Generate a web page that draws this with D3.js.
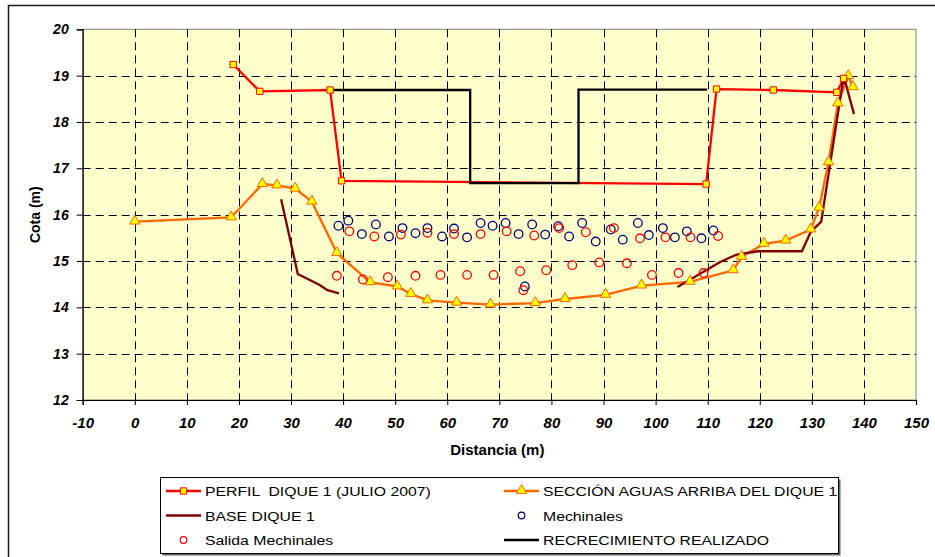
<!DOCTYPE html>
<html>
<head>
<meta charset="utf-8">
<script src="https://cdn.jsdelivr.net/npm/d3@7"></script>
<style>
  html, body { margin: 0; padding: 0; background: #fff; }
  svg { display: block; font-family: "Liberation Sans", Arial, sans-serif; }
</style>
</head>
<body>
<svg id="chart" width="935" height="557"></svg>
<script>
// Perfil del dique 1 (julio 2007)
const perfilX = [18.9, 24.0, 37.5, 39.7, 109.7, 111.7, 122.6, 134.8, 136.1];
const perfilY = [19.24, 18.66, 18.69, 16.73, 16.66, 18.71, 18.69, 18.64, 18.94];

// Sección aguas arriba del dique 1
const seccionX = [0, 18.5, 24.5, 27.3, 30.8, 34.0, 38.8, 45.2, 50.4, 53.0, 56.2, 61.8, 68.3, 76.9, 82.6, 90.4, 97.3, 106.6, 114.9, 116.5, 120.8, 125.0, 129.8, 131.4, 133.2, 135.0, 137.0, 137.9];
const seccionY = [15.85, 15.94, 16.66, 16.63, 16.56, 16.28, 15.17, 14.54, 14.45, 14.29, 14.15, 14.10, 14.06, 14.09, 14.18, 14.27, 14.47, 14.55, 14.80, 15.09, 15.37, 15.44, 15.68, 16.15, 17.13, 18.40, 18.99, 18.75];

// Base del dique 1 (dos tramos)
const baseIzqX = [28.1, 31.3, 35.5, 37.0, 39.2];
const baseIzqY = [16.33, 14.72, 14.48, 14.37, 14.30];
const baseDerX = [104.2, 109.2, 112.4, 115.6, 119.7, 128.1, 129.8, 131.8, 135.9, 136.4, 138.1];
const baseDerY = [14.44, 14.77, 14.98, 15.14, 15.21, 15.21, 15.63, 15.85, 18.83, 18.87, 18.17];

// Mechinales
const mechX = [39.1, 41.0, 43.6, 46.3, 48.8, 51.4, 53.9, 56.2, 59.0, 61.3, 63.8, 66.4, 68.7, 71.2, 73.7, 76.3, 78.8, 81.3, 83.4, 85.9, 88.5, 91.4, 93.7, 96.6, 98.7, 101.4, 103.7, 106.0, 108.8, 111.1, 74.9];
const mechY = [15.76, 15.87, 15.58, 15.79, 15.53, 15.71, 15.60, 15.71, 15.53, 15.70, 15.51, 15.82, 15.76, 15.82, 15.58, 15.79, 15.57, 15.75, 15.53, 15.82, 15.42, 15.68, 15.46, 15.82, 15.56, 15.71, 15.51, 15.64, 15.49, 15.66, 14.45];

// Salida de mechinales
const salidaX = [41.2, 46.0, 51.1, 56.2, 61.3, 66.4, 71.4, 76.7, 81.5, 86.6, 92.0, 97.0, 101.9, 106.7, 112.0, 38.8, 43.8, 48.6, 53.9, 58.7, 63.8, 68.9, 74.0, 79.0, 84.0, 89.2, 94.5, 99.3, 104.4, 109.2, 74.6];
const salidaY = [15.64, 15.53, 15.57, 15.61, 15.58, 15.58, 15.64, 15.55, 15.71, 15.62, 15.71, 15.49, 15.51, 15.51, 15.54, 14.68, 14.60, 14.65, 14.68, 14.70, 14.70, 14.70, 14.78, 14.80, 14.91, 14.97, 14.95, 14.70, 14.74, 14.74, 14.37];

// Recrecimiento realizado
const recrecX = [37.5, 64.4, 64.4, 85.2, 85.2, 109.9];
const recrecY = [18.69, 18.69, 16.68, 16.68, 18.70, 18.70];

// Ticks and legend labels
const xTicks = [-10, 0, 10, 20, 30, 40, 50, 60, 70, 80, 90, 100, 110, 120, 130, 140, 150];
const yTicks = [12, 13, 14, 15, 16, 17, 18, 19, 20];
const legendLabels = [
  "PERFIL  DIQUE 1 (JULIO 2007)", "SECCIÓN AGUAS ARRIBA DEL DIQUE 1",
  "BASE DIQUE 1", "Mechinales",
  "Salida Mechinales", "RECRECIMIENTO REALIZADO"
];

const zip = (xs, ys) => xs.map((x, i) => [x, ys[i]]);

const svg = d3.select("#chart");
const plotL = 82.7, plotR = 916, plotT = 29.3, plotB = 400;

const x = d3.scaleLinear().domain([-10, 150]).range([plotL, plotR]);
const y = d3.scaleLinear().domain([12, 20]).range([plotB, plotT]);

// Outer chart frame
svg.append("rect")
  .attr("x", 8.5).attr("y", 5.5).attr("width", 940).attr("height", 560)
  .attr("fill", "#fff").attr("stroke", "#1a1a1a").attr("stroke-width", 1.5);

// Plot area
svg.append("rect")
  .attr("x", plotL).attr("y", plotT).attr("width", plotR - plotL).attr("height", plotB - plotT)
  .attr("fill", "#FFFFCC").attr("stroke", "#808080").attr("stroke-width", 1);

// Dashed gridlines
const grid = svg.append("g").attr("stroke", "#000").attr("stroke-width", 1)
  .attr("stroke-dasharray", "8,5").attr("fill", "none");
grid.selectAll("line.h").data(yTicks.filter(t => t > 12 && t < 20)).join("line")
  .attr("x1", plotL).attr("x2", plotR)
  .attr("y1", d => Math.round(y(d)) + 0.5).attr("y2", d => Math.round(y(d)) + 0.5);
grid.selectAll("line.v").data(xTicks.filter(t => t > -10 && t < 150)).join("line")
  .attr("y1", plotT).attr("y2", plotB)
  .attr("x1", d => Math.round(x(d)) + 0.5).attr("x2", d => Math.round(x(d)) + 0.5);

// Axes (plain hyphen for negative labels)
const fmt = d => String(d);
const gx = svg.append("g").attr("transform", `translate(0,${plotB})`)
  .call(d3.axisBottom(x).tickValues(xTicks).tickFormat(fmt).tickSize(5).tickPadding(12));
const gy = svg.append("g").attr("transform", `translate(${plotL},0)`)
  .call(d3.axisLeft(y).tickValues(yTicks).tickFormat(fmt).tickSize(6).tickPadding(8));
[gx, gy].forEach(g => {
  g.select(".domain").attr("stroke", "#000").attr("stroke-width", 1.2);
  g.selectAll(".tick line").attr("stroke", "#000").attr("stroke-width", 1);
  g.selectAll(".tick text").attr("fill", "#000");
});
gx.selectAll(".tick text").style("font", "bold italic 15px 'Liberation Sans', Arial, sans-serif");
gy.selectAll(".tick text").style("font", "bold italic 14px 'Liberation Sans', Arial, sans-serif");

svg.append("text")
  .attr("transform", `translate(40,${(plotT + plotB) / 2}) rotate(-90)`)
  .attr("text-anchor", "middle")
  .style("font", "bold 14px 'Liberation Sans', Arial, sans-serif")
  .text("Cota (m)");
svg.append("text")
  .attr("x", (plotL + plotR) / 2 - 2).attr("y", 455)
  .attr("text-anchor", "middle")
  .style("font", "bold 15px 'Liberation Sans', Arial, sans-serif")
  .text("Distancia (m)");

// Series
const line = d3.line().x(d => x(d[0])).y(d => y(d[1]));
const plot = svg.append("g");

const colors = {
  perfil: "#FF0000", seccion: "#FF6600", base: "#800000",
  mech: "#000080", salida: "#FF0000", recrec: "#000000", fill: "#FFFF00"
};

plot.append("path").attr("d", line(zip(perfilX, perfilY)))
  .attr("fill", "none").attr("stroke", colors.perfil).attr("stroke-width", 2.3);
plot.append("path").attr("d", line(zip(seccionX, seccionY)))
  .attr("fill", "none").attr("stroke", colors.seccion).attr("stroke-width", 2.3);
[zip(baseIzqX, baseIzqY), zip(baseDerX, baseDerY)].forEach(seg => {
  plot.append("path").attr("d", line(seg))
    .attr("fill", "none").attr("stroke", colors.base).attr("stroke-width", 2.3);
});
plot.append("path").attr("d", line(zip(recrecX, recrecY)))
  .attr("fill", "none").attr("stroke", colors.recrec).attr("stroke-width", 2.3)
  .attr("stroke-linejoin", "miter");

const triangle = d3.symbol().type(d3.symbolTriangle).size(46);
const square = d3.symbol().type(d3.symbolSquare).size(40);

plot.selectAll("path.tri").data(zip(seccionX, seccionY)).join("path")
  .attr("class", "tri")
  .attr("d", triangle)
  .attr("transform", d => `translate(${x(d[0])},${y(d[1]) - 0.5})`)
  .attr("fill", colors.fill).attr("stroke", colors.seccion).attr("stroke-width", 1);

plot.selectAll("path.sq").data(zip(perfilX, perfilY)).join("path")
  .attr("class", "sq")
  .attr("d", square)
  .attr("transform", d => `translate(${x(d[0])},${y(d[1])})`)
  .attr("fill", colors.fill).attr("stroke", colors.perfil).attr("stroke-width", 1);

plot.selectAll("circle.mech").data(zip(mechX, mechY)).join("circle")
  .attr("class", "mech")
  .attr("cx", d => x(d[0])).attr("cy", d => y(d[1])).attr("r", 4.3)
  .attr("fill", "none").attr("stroke", colors.mech).attr("stroke-width", 1.3);

plot.selectAll("circle.sal").data(zip(salidaX, salidaY)).join("circle")
  .attr("class", "sal")
  .attr("cx", d => x(d[0])).attr("cy", d => y(d[1])).attr("r", 4.3)
  .attr("fill", "none").attr("stroke", colors.salida).attr("stroke-width", 1.3);

// Legend
const lg = svg.append("g");
lg.append("rect").attr("x", 162.5).attr("y", 479.5).attr("width", 678).attr("height", 76)
  .attr("fill", "#666");
lg.append("rect").attr("x", 160.5).attr("y", 477.5).attr("width", 678).attr("height", 76)
  .attr("fill", "#fff").attr("stroke", "#000").attr("stroke-width", 1);

const colX = [166, 504];
const textX = [205, 543];
const rowY = [491, 515.5, 540];
const legendKeys = ["perfil", "seccion", "base", "mech", "salida", "recrec"];
const legendStretch = 1.17;

legendKeys.forEach((k, i) => {
  const cx = colX[i % 2], ry = rowY[Math.floor(i / 2)];
  const g = lg.append("g");
  const mid = cx + 17.5;
  if (k === "perfil" || k === "seccion" || k === "base" || k === "recrec") {
    g.append("line").attr("x1", cx).attr("x2", cx + 35).attr("y1", ry).attr("y2", ry)
      .attr("stroke", colors[k]).attr("stroke-width", 2.5);
  }
  if (k === "perfil") {
    g.append("path").attr("d", square).attr("transform", `translate(${mid},${ry})`)
      .attr("fill", colors.fill).attr("stroke", colors.perfil).attr("stroke-width", 1);
  }
  if (k === "seccion") {
    g.append("path").attr("d", triangle).attr("transform", `translate(${mid},${ry - 0.5})`)
      .attr("fill", colors.fill).attr("stroke", colors.seccion).attr("stroke-width", 1);
  }
  if (k === "mech" || k === "salida") {
    g.append("circle").attr("cx", mid).attr("cy", ry).attr("r", 3.3)
      .attr("fill", "none").attr("stroke", colors[k]).attr("stroke-width", 1.2);
  }
  g.append("text")
    .attr("transform", `translate(${textX[i % 2]},${ry + 5}) scale(${legendStretch},1)`)
    .style("font", "13.5px 'Liberation Sans', Arial, sans-serif")
    .style("white-space", "pre")
    .attr("fill", "#000")
    .text(legendLabels[i]);
});
</script>
</body>
</html>
